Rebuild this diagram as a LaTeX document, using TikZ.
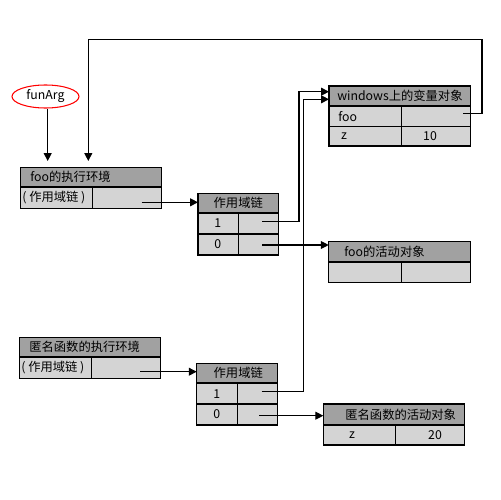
\documentclass[tikz,border=0pt]{standalone}
\usepackage{fontspec}
\setmainfont{Noto Sans CJK SC}
\usetikzlibrary{arrows.meta,shapes.geometric}
\definecolor{hdgray}{gray}{0.63}
\definecolor{rowgray}{gray}{0.83}
\begin{document}
\begin{tikzpicture}[x=0.02cm,y=-0.02cm,
  cell/.style={draw, line width=0.6pt, inner sep=0pt, outer sep=0pt},
  hdcell/.style={cell, fill=hdgray},
  rowcell/.style={cell, fill=rowgray},
  txt/.style={inner sep=0pt, font=\fontsize{7}{8}\selectfont},
  lbl/.style={txt, anchor=west},
  sep/.style={line width=1.1pt},
  conn/.style={line width=0.6pt, -{Triangle[length=4.5pt,width=4.5pt]}},
  plain/.style={line width=0.6pt}
]
\useasboundingbox (0,0) rectangle (500,500);

% foo execution environment
\path[hdcell] (20.7,167.3) rectangle (161.7,187.3);
\path[rowcell] (20.7,187.3) rectangle (92.7,208.3);
\path[rowcell] (92.7,187.3) rectangle (161.7,208.3);
\draw[sep] (20.7,187.3) -- (161.7,187.3);
\node[lbl] (feT) at (30,177.3) {foo的执行环境};
\node[lbl] (feS) at (22,197.8) {( 作用域链 )};
\coordinate (feV) at (141.7,202.3);
\coordinate (feTop) at (47.7,161);
\coordinate (feTop2) at (88.3,161);

% scope chain 1
\path[hdcell] (198,193.3) rectangle (278.3,213.3);
\path[rowcell] (198,213.3) rectangle (238.7,234);
\path[rowcell] (238.7,213.3) rectangle (278.3,234);
\path[rowcell] (198,234) rectangle (238.7,255);
\path[rowcell] (238.7,234) rectangle (278.3,255);
\draw[sep] (198,213.3) -- (278.3,213.3);
\draw[sep] (198,234) -- (278.3,234);
\node[lbl] (s1T) at (213.3,203.3) {作用域链};
\node[lbl] (s1a) at (214,223.6) {1};
\node[lbl] (s1b) at (214,244.5) {0};
\coordinate (s1in) at (198,202.3);
\coordinate (s1r1) at (262.3,221.7);
\coordinate (s1r2) at (262.3,245);

% window variable object
\path[hdcell] (329,86) rectangle (470.7,106);
\path[rowcell] (329,106) rectangle (401.7,126.7);
\path[rowcell] (401.7,106) rectangle (470.7,126.7);
\path[rowcell] (329,126.7) rectangle (401.7,146);
\path[rowcell] (401.7,126.7) rectangle (470.7,146);
\draw[sep] (329,106) -- (470.7,106);
\node[lbl] (wT) at (337,96) {windows上的变量对象};
\node[lbl] (wFoo) at (338,116.3) {foo};
\node[txt] (wZ) at (344,136.3) {z};
\node[txt] (wV) at (430,136.3) {10};
\coordinate (wFooV) at (463,113.3);
\coordinate (wIn1) at (329,91.7);
\coordinate (wIn2) at (329,99.3);

% foo activation object
\path[hdcell] (328.7,241.7) rectangle (470.7,261.7);
\path[rowcell] (328.7,261.7) rectangle (401.7,282.3);
\path[rowcell] (401.7,261.7) rectangle (470.7,282.3);
\draw[sep] (328.7,261.7) -- (470.7,261.7);
\node[lbl] (faT) at (344,251.7) {foo的活动对象};
\coordinate (faIn) at (328.7,245);

% anonymous function execution environment
\path[hdcell] (19.3,337.3) rectangle (160.7,357.3);
\path[rowcell] (19.3,357.3) rectangle (91.7,378.3);
\path[rowcell] (91.7,357.3) rectangle (160.7,378.3);
\draw[sep] (19.3,357.3) -- (160.7,357.3);
\node[lbl] (aeT) at (29,347.3) {匿名函数的执行环境};
\node[lbl] (aeS) at (21,367.8) {( 作用域链 )};
\coordinate (aeV) at (140,371.7);

% scope chain 2
\path[hdcell] (196.7,363.3) rectangle (277.7,383.3);
\path[rowcell] (196.7,383.3) rectangle (237.7,404.3);
\path[rowcell] (237.7,383.3) rectangle (277.7,404.3);
\path[rowcell] (196.7,404.3) rectangle (237.7,425);
\path[rowcell] (237.7,404.3) rectangle (277.7,425);
\draw[sep] (196.7,383.3) -- (277.7,383.3);
\draw[sep] (196.7,404.3) -- (277.7,404.3);
\node[lbl] (s2T) at (213.3,373.3) {作用域链};
\node[lbl] (s2a) at (213,393.8) {1};
\node[lbl] (s2b) at (213,414.6) {0};
\coordinate (s2in) at (196.7,371.7);
\coordinate (s2r1) at (261.7,391.7);
\coordinate (s2r2) at (259,415.7);

% anonymous activation object
\path[hdcell] (323.3,404) rectangle (464.3,425);
\path[rowcell] (323.3,425) rectangle (395.7,445);
\path[rowcell] (395.7,425) rectangle (464.3,445);
\draw[sep] (323.3,425) -- (464.3,425);
\node[lbl] (aaT) at (345,414.5) {匿名函数的活动对象};
\node[txt] (aaZ) at (352,435) {z};
\node[txt] (aaV) at (435,435) {20};
\coordinate (aaIn) at (323.3,415.7);

% funArg
\node[draw=red, ellipse, line width=0.6pt, minimum width=67*0.02cm, minimum height=23*0.02cm, inner sep=0pt, font=\fontsize{7}{8}\selectfont] (fa) at (45.5,96.5) {funArg};

% connectors
\draw[conn] (fa.south -| feTop) -- (feTop);
\draw[conn] (wFooV) -- (482,113.3) -- (482,39.3) -- (88.3,39.3) -- (feTop2);
\draw[conn] (feV) -- (s1in);
\draw[conn] (s1r1) -- (299,221.7) -- (299,91.7) -- (wIn1);
\draw[conn] (s2r1) -- (303.3,391.7) -- (303.3,99.3) -- (wIn2);
\draw[conn] (s1r2) -- (faIn);
\draw[conn] (aeV) -- (s2in);
\draw[conn] (s2r2) -- (aaIn);
\end{tikzpicture}
\end{document}
